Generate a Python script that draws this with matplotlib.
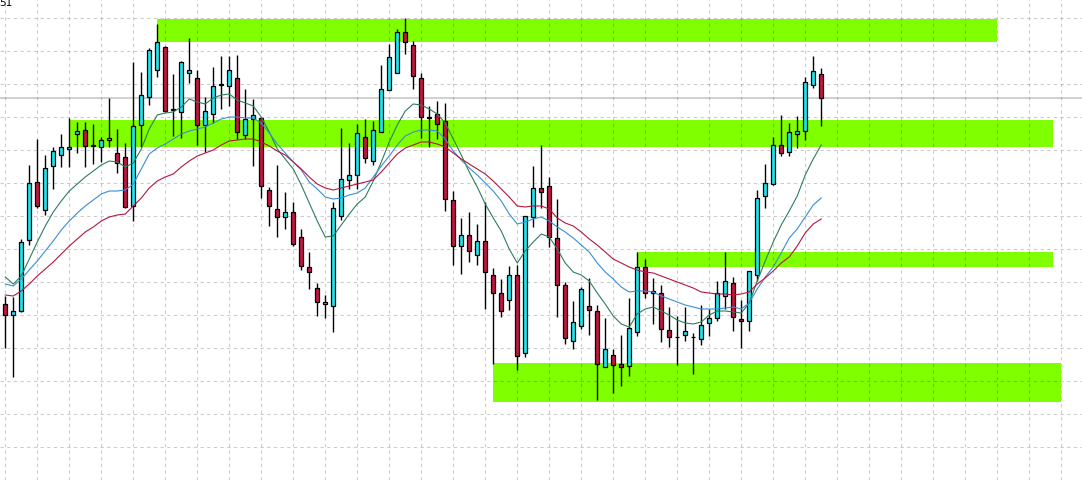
import numpy as np
import matplotlib
matplotlib.use("Agg")
import matplotlib.pyplot as plt

# candle data in price points, one entry per bar
opens = [195, 184, 188, 259, 317, 289, 333, 344, 350, 365,
         369, 353, 352, 359, 346, 342, 293, 374, 402, 429,
         452, 390, 387, 426, 421, 374, 385, 414, 413, 421,
         364, 380, 381, 309, 290, 282, 287, 262, 232, 211,
         195, 193, 283, 319, 324, 362, 338, 367, 409, 426,
         467, 454, 421, 382, 385, 378, 299, 253, 264, 244,
         258, 224, 206, 199, 224, 146, 282, 311, 313, 261,
         214, 158, 173, 193, 188, 132, 144, 135, 133, 167,
         232, 206, 206, 169, 162, 164, 162, 160, 176, 181,
         203, 216, 180, 178, 224, 303, 315, 354, 347, 365,
         368, 414, 425]
highs = [203, 202, 260, 334, 360, 344, 352, 365, 381, 377,
         377, 375, 362, 401, 370, 356, 437, 427, 451, 475,
         453, 425, 438, 461, 429, 402, 432, 443, 443, 444,
         410, 400, 382, 312, 334, 307, 297, 270, 247, 216,
         204, 297, 371, 356, 375, 380, 378, 434, 455, 470,
         481, 458, 426, 393, 398, 396, 308, 281, 287, 275,
         297, 231, 220, 233, 234, 283, 333, 354, 322, 300,
         217, 198, 212, 221, 194, 181, 150, 164, 201, 247,
         240, 221, 214, 192, 183, 192, 166, 194, 190, 218,
         247, 222, 199, 228, 309, 335, 362, 384, 376, 383,
         422, 443, 431]
lows = [151, 122, 187, 254, 291, 284, 310, 332, 332, 346,
        332, 335, 337, 352, 326, 291, 278, 352, 394, 422,
        387, 363, 361, 416, 354, 347, 376, 390, 393, 360,
        360, 333, 301, 273, 262, 270, 253, 229, 210, 183,
        181, 167, 279, 310, 310, 336, 334, 367, 409, 426,
        445, 410, 361, 352, 360, 288, 234, 225, 237, 234,
        190, 135, 182, 189, 129, 142, 272, 291, 252, 182,
        155, 150, 170, 164, 99, 132, 106, 113, 123, 163,
        201, 175, 157, 152, 134, 158, 125, 154, 163, 178,
        190, 168, 151, 168, 218, 291, 314, 343, 343, 351,
        359, 411, 373]
closes = [184, 188, 257, 316, 293, 331, 348, 352, 352, 368,
          353, 354, 359, 361, 336, 292, 373, 404, 449, 457,
          388, 389, 437, 429, 374, 388, 413, 415, 429, 367,
          380, 384, 313, 293, 282, 287, 255, 233, 227, 197,
          197, 291, 320, 324, 366, 341, 369, 410, 442, 467,
          457, 423, 382, 381, 375, 300, 253, 264, 248, 258,
          227, 206, 188, 224, 143, 283, 311, 307, 262, 214,
          161, 177, 210, 189, 135, 150, 134, 132, 171, 232,
          206, 208, 170, 162, 162, 168, 162, 174, 181, 206,
          218, 182, 178, 228, 301, 316, 354, 346, 367, 368,
          417, 428, 401]

# moving averages as drawn on the chart
ma_green = [222, 215, 223, 240, 257, 273, 287, 298, 308, 315,
            322, 328, 334, 338, 337, 332, 336, 350, 370, 384,
            386, 387, 392, 400, 397, 395, 401, 404, 405, 399,
            396, 393, 382, 367, 350, 340, 330, 314, 296, 278,
            262, 263, 274, 285, 295, 302, 318, 337, 357, 374,
            388, 395, 394, 390, 385, 376, 360, 344, 327, 312,
            295, 281, 268, 250, 236, 248, 257, 265, 262, 250,
            236, 227, 224, 218, 206, 195, 183, 175, 172, 185,
            190, 192, 188, 184, 179, 176, 175, 177, 184, 188,
            188, 187, 186, 196, 218, 238, 257, 274, 288, 303,
            324, 340, 354]
ma_blue = [215, 213, 220, 229, 238, 248, 258, 269, 278, 286,
           293, 299, 305, 308, 308, 309, 315, 330, 345, 351,
           355, 360, 365, 368, 370, 372, 376, 380, 382, 382,
           381, 381, 376, 366, 355, 346, 337, 329, 317, 310,
           302, 300, 301, 304, 306, 311, 322, 333, 343, 354,
           363, 367, 369, 369, 368, 360, 348, 339, 331, 324,
           316, 308, 298, 285, 275, 277, 280, 282, 278, 272,
           267, 261, 254, 247, 236, 227, 220, 212, 207, 208,
           208, 207, 203, 200, 197, 194, 192, 190, 190, 190,
           191, 192, 190, 196, 210, 222, 232, 246, 261, 270,
           282, 294, 301]
ma_red = [204, 203, 208, 215, 223, 230, 237, 245, 253, 260,
          267, 272, 278, 282, 284, 285, 293, 301, 311, 318,
          322, 325, 332, 338, 343, 346, 349, 354, 358, 359,
          360, 360, 357, 353, 348, 344, 337, 330, 322, 315,
          311, 309, 311, 313, 315, 317, 319, 327, 336, 345,
          351, 354, 357, 357, 355, 352, 346, 340, 335, 330,
          325, 318, 310, 302, 293, 292, 293, 293, 290, 281,
          276, 273, 267, 260, 254, 247, 240, 236, 232, 229,
          227, 226, 223, 220, 217, 214, 211, 207, 206, 205,
          205, 204, 205, 207, 215, 221, 228, 236, 242, 253,
          266, 275, 280]

# supply / demand zones: start bar, end bar, low, high
zone_start = [19, 8, 79, 61]
zone_end = [124, 131, 131, 132]
zone_low = [457.3, 352.3, 232.3, 97.3]
zone_high = [480, 379, 246.7, 136]

bull = '#22e4ec'
bear = '#c01840'
grid_c = '#c4c4c4'

fig = plt.figure(figsize=(10.82, 4.81), dpi=100)
ax = fig.add_axes([0, 0, 1, 1])
ax.set_xlim(-0.66, 134.6)
ax.set_ylim(19, 500)

for s, e, lo, hi in zip(zone_start, zone_end, zone_low, zone_high):
    ax.fill_between([s, e], lo, hi, color='#7fff00', lw=0, zorder=1)

ax.set_xticks(np.arange(0, 135, 4))
ax.set_yticks(np.arange(51.7, 500, 33))
ax.grid(True, color='black', alpha=0.2, ls=(0, (3, 3)), lw=0.8, zorder=2)
ax.set_axisbelow(False)
ax.tick_params(length=0, labelleft=False, labelbottom=False)
for sp in ax.spines.values():
    sp.set_visible(False)

# bid line at last close
ax.axhline(closes[-1], color='#c8c8c8', lw=1.2, zorder=2.5)

x = np.arange(len(closes))
o = np.array(opens)
c = np.array(closes)
ax.vlines(x, lows, highs, color='black', lw=1, zorder=3)
cols = [bull if cc >= oo else bear for oo, cc in zip(o, c)]
ax.bar(x, np.abs(c - o), bottom=np.minimum(o, c), width=0.55,
       color=cols, edgecolor='black', lw=0.9, zorder=4)

ax.plot(x, ma_green, color='#2f7d5c', lw=0.8, zorder=5)
ax.plot(x, ma_blue, color='#3a8dd4', lw=0.8, zorder=5)
ax.plot(x, ma_red, color='#b3173f', lw=0.8, zorder=5)

fig.text(-0.001, 1 - 6.5 / 481, '51', fontsize=7.5, ha='left', va='baseline')

fig.savefig('out.png', dpi=100)
plt.close(fig)
